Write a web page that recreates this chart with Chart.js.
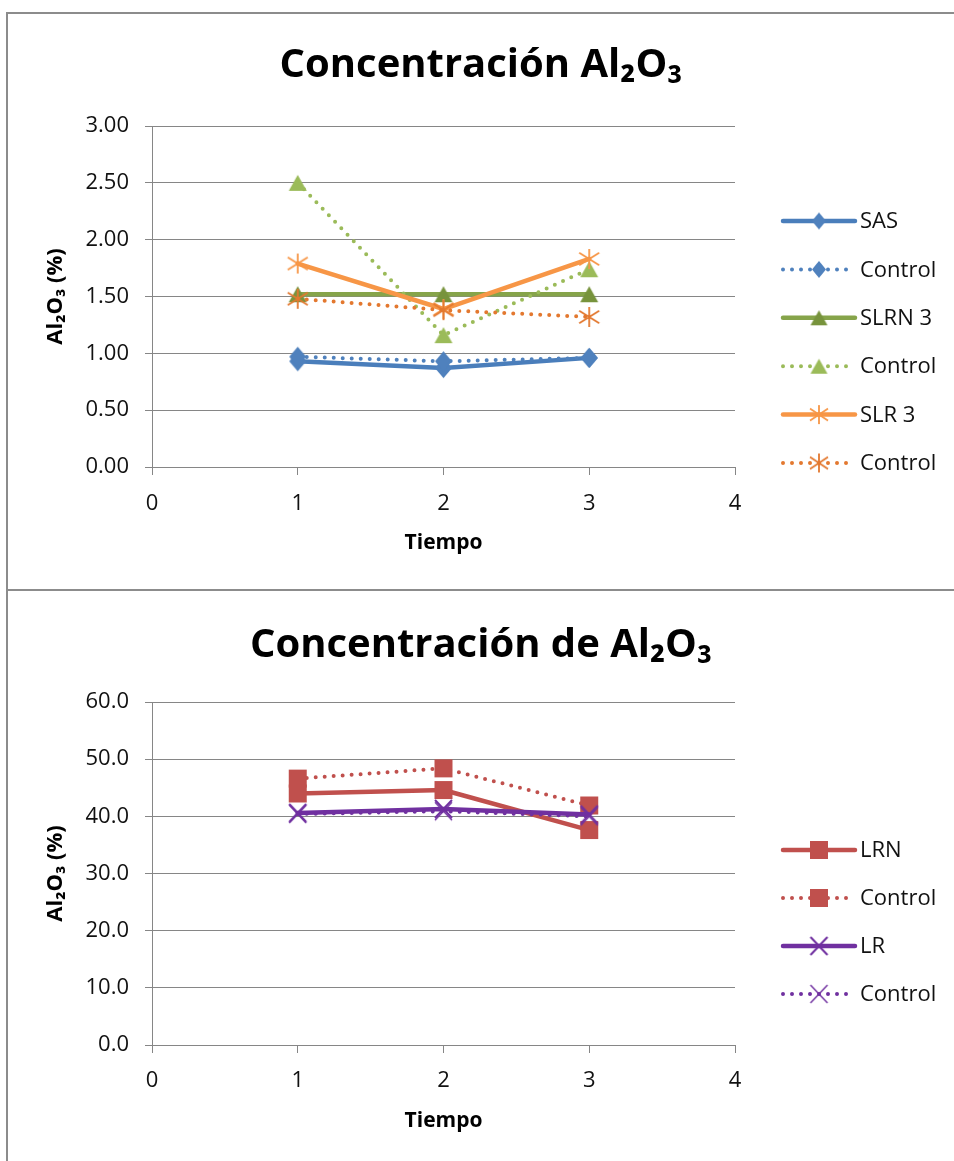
<!DOCTYPE html>
<html><head><meta charset="utf-8">
<script src="https://cdn.jsdelivr.net/npm/chart.js@4.4.1/dist/chart.umd.min.js"></script>
<style>
html,body{margin:0;padding:0;background:#fff;overflow:hidden;width:954px;height:1161px;}
.frame{position:absolute;left:6px;width:1000px;height:620px;border:2px solid #8c8c8c;background:#fff;box-sizing:border-box}
#f1{top:12px}
#f2{top:589px}
canvas{position:absolute}
#c1{left:8px;top:14px}
#c2{left:8px;top:591px}
</style></head><body>
<div class="frame" id="f1"></div>
<div class="frame" id="f2"></div>
<canvas id="c1" width="946" height="575"></canvas>
<canvas id="c2" width="946" height="570"></canvas>
<script>
// ---- data ----
const timeCats = [1, 2, 3];
const xTicks = [0, 1, 2, 3, 4];
const topTitle = 'Concentración Al₂O₃';
const bottomTitle = 'Concentración de Al₂O₃';
const yTitle = 'Al₂O₃ (%)';
const xTitle = 'Tiempo';
const topLabels = ['SAS', 'Control', 'SLRN 3', 'Control', 'SLR 3', 'Control'];
const sasVals      = [0.93, 0.87, 0.96];
const sasCtrlVals  = [0.97, 0.93, 0.96];
const slrnVals     = [1.52, 1.52, 1.52];
const slrnCtrlVals = [2.50, 1.16, 1.74];
const slrVals      = [1.79, 1.39, 1.83];
const slrCtrlVals  = [1.48, 1.38, 1.32];
const topYTicks = [0, 0.5, 1, 1.5, 2, 2.5, 3];
const bottomLabels = ['LRN', 'Control', 'LR', 'Control'];
const lrnVals      = [44.0, 44.6, 37.6];
const lrnCtrlVals  = [46.6, 48.4, 41.9];
const lrVals       = [40.6, 41.3, 40.3];
const lrCtrlVals   = [40.4, 40.9, 40.0];
const bottomYTicks = [0, 10, 20, 30, 40, 50, 60];

const FONT = "'Open Sans', 'Noto Sans', 'DejaVu Sans', sans-serif";
const GRID = '#868686';

function marker(kind, color, w, h, lw) {
  const c = document.createElement('canvas');
  const W = Math.ceil(w) + 4, H = Math.ceil(h) + 4;
  c.width = W; c.height = H;
  const g = c.getContext('2d');
  const mx = W / 2, my = H / 2, hw = w / 2, hh = h / 2;
  g.fillStyle = color; g.strokeStyle = color; g.lineWidth = lw || 1.6; g.lineCap = 'butt';
  g.beginPath();
  if (kind === 'diamond') {
    g.moveTo(mx, my - hh); g.lineTo(mx + hw, my); g.lineTo(mx, my + hh); g.lineTo(mx - hw, my); g.closePath(); g.fill();
  } else if (kind === 'triangle') {
    g.moveTo(mx, my - hh); g.lineTo(mx + hw, my + hh); g.lineTo(mx - hw, my + hh); g.closePath(); g.fill();
  } else if (kind === 'square') {
    g.rect(mx - hw, my - hh, w, h); g.fill();
  } else if (kind === 'star') {
    g.moveTo(mx, my - hh); g.lineTo(mx, my + hh);
    g.moveTo(mx - hw, my - hh * 0.62); g.lineTo(mx + hw, my + hh * 0.62);
    g.moveTo(mx - hw, my + hh * 0.62); g.lineTo(mx + hw, my - hh * 0.62);
    g.stroke();
  } else if (kind === 'x') {
    g.moveTo(mx - hw, my - hh); g.lineTo(mx + hw, my + hh);
    g.moveTo(mx - hw, my + hh); g.lineTo(mx + hw, my - hh);
    g.stroke();
  }
  return c;
}

function series(label, vals, color, dotted, kind, mColor, sz, lsz, lw) {
  return {
    label,
    xAxisID: 'x', yAxisID: 'y',
    data: timeCats.map((t, i) => ({ x: t, y: vals[i] })),
    borderColor: color,
    backgroundColor: color,
    borderWidth: dotted ? 4 : 4.5,
    borderDash: dotted ? [0, 9] : [],
    borderCapStyle: 'round',
    borderJoinStyle: 'round',
    pointStyle: marker(kind, mColor, sz[0], sz[1], lw),
    legendMarker: marker(kind, mColor, lsz[0], lsz[1], lw),
    pointRadius: 9, pointHoverRadius: 9,
    tension: 0, fill: false
  };
}

const sideLegend = {
  id: 'sideLegend',
  afterDraw(chart, args, opts) {
    const ctx = chart.ctx;
    chart.data.datasets.forEach((ds, i) => {
      const y = opts.y0 + i * opts.step;
      ctx.save();
      ctx.strokeStyle = ds.borderColor; ctx.lineWidth = ds.borderWidth; ctx.lineCap = 'round';
      ctx.setLineDash(ds.borderDash || []);
      ctx.beginPath(); ctx.moveTo(opts.x0, y); ctx.lineTo(opts.x1, y); ctx.stroke();
      ctx.setLineDash([]);
      const img = ds.legendMarker;
      ctx.drawImage(img, (opts.x0 + opts.x1) / 2 - img.width / 2, y - img.height / 2);
      ctx.fillStyle = '#111';
      ctx.font = '22px ' + FONT;
      ctx.textBaseline = 'middle'; ctx.textAlign = 'left';
      ctx.fillText(ds.label, opts.tx, y + 1);
      ctx.restore();
    });
  }
};

function build(canvasId, title, datasets, yMax, yDigits, yTickVals, geo) {
  const n = datasets.length;
  datasets.forEach((d, i) => d.order = n - i);
  return new Chart(document.getElementById(canvasId), {
    type: 'line',
    data: { datasets },
    plugins: [sideLegend],
    options: {
      responsive: false, animation: false, devicePixelRatio: 1,
      layout: { padding: 0 },
      plugins: {
        legend: { display: false }, tooltip: { enabled: false },
        title: { display: true, text: title, color: '#000',
          font: { family: FONT, size: 40, weight: 'bold' },
          padding: { top: geo.titleTop, bottom: geo.titleBottom } },
        sideLegend: { x0: 775, x1: 847, tx: 852, y0: geo.legY, step: geo.legStep }
      },
      scales: {
        x: {
          type: 'linear', min: 0, max: 4,
          afterBuildTicks: s => { s.ticks = xTicks.map(v => ({ value: v })); },
          afterFit: s => { s.height = geo.xH; },
          ticks: { color: '#111', font: { family: FONT, size: 22 }, padding: geo.xPad, maxRotation: 0 },
          grid: { drawOnChartArea: false, drawTicks: true, tickLength: 8, color: GRID, lineWidth: 1 },
          border: { display: true, color: GRID, width: 1 },
          title: { display: true, text: xTitle, color: '#000',
            font: { family: FONT, size: 21, weight: 'bold' }, padding: { top: 0, bottom: geo.xTitleBottom } }
        },
        y: {
          type: 'linear', position: 'left', min: 0, max: yMax,
          afterBuildTicks: s => { s.ticks = yTickVals.map(v => ({ value: v })); },
          afterFit: s => { s.width = 144; },
          ticks: { color: '#111', font: { family: FONT, size: 22 }, padding: 16,
            callback: v => Number(v).toFixed(yDigits) },
          grid: { drawOnChartArea: true, drawTicks: true, tickLength: 7, color: GRID, lineWidth: 1 },
          border: { display: true, color: GRID, width: 1 },
          title: { display: true, text: yTitle, color: '#000',
            font: { family: FONT, size: 22, weight: 'bold' }, padding: { top: 35, bottom: 0 } }
        },
        // empty right-hand band that keeps room for the series key
        yR: {
          type: 'linear', position: 'right', display: true, min: 0, max: 1,
          afterFit: s => { s.width = 219; },
          ticks: { display: false },
          grid: { display: false, drawTicks: false },
          border: { display: false }
        }
      }
    }
  });
}

function draw() {
  const blue = '#4A7EBB', blueC = '#4F81BD';
  const green = '#86A44A', greenM = '#77933C', greenC = '#9BBB59';
  const orange = '#F79646', orangeC = '#E3782F';
  const red = '#C0504D', purple = '#7030A0';
  const D = [17, 20], Dl = [14, 17];
  const T = [18, 16], Tl = [17, 15];
  const S = [20, 20], Sl = [18, 19];
  const Q = [18, 18], Ql = [18, 18];
  const X = [17, 18], Xl = [17, 18];
  const top = [
    series(topLabels[0], sasVals, blue, false, 'diamond', blueC, D, Dl),
    series(topLabels[1], sasCtrlVals, blueC, true, 'diamond', blueC, D, Dl),
    series(topLabels[2], slrnVals, green, false, 'triangle', greenM, T, Tl),
    series(topLabels[3], slrnCtrlVals, greenC, true, 'triangle', greenC, T, Tl),
    series(topLabels[4], slrVals, orange, false, 'star', orange, S, Sl, 1.8),
    series(topLabels[5], slrCtrlVals, orangeC, true, 'star', orangeC, S, Sl, 1.8)
  ];
  const bottom = [
    series(bottomLabels[0], lrnVals, red, false, 'square', red, Q, Ql),
    series(bottomLabels[1], lrnCtrlVals, red, true, 'square', red, Q, Ql),
    series(bottomLabels[2], lrVals, purple, false, 'x', purple, X, Xl, 2),
    series(bottomLabels[3], lrCtrlVals, purple, true, 'x', purple, X, Xl, 1.4)
  ];
  build('c1', topTitle, top, 3, 2, topYTicks,
    { titleTop: 28, titleBottom: 36, xH: 122, xPad: 16, xTitleBottom: 33, legY: 207, legStep: 48.4 });
  build('c2', bottomTitle, bottom, 60, 1, bottomYTicks,
    { titleTop: 31, titleBottom: 32, xH: 116, xPad: 15, xTitleBottom: 27, legY: 259, legStep: 48 });
}

Promise.all([
  document.fonts.load("22px 'Open Sans'"),
  document.fonts.load("bold 40px 'Open Sans'")
]).catch(() => {}).then(draw);
</script>
</body></html>
